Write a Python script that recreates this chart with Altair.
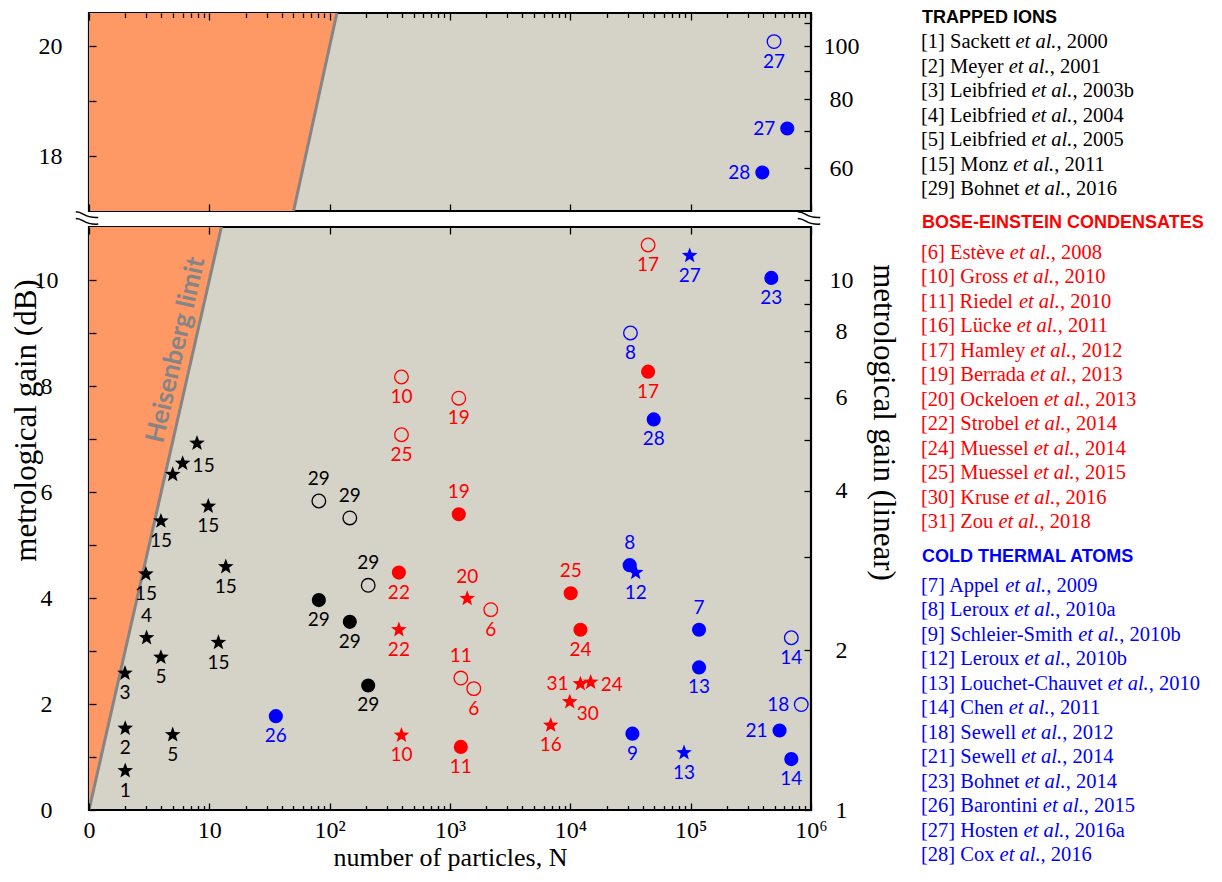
import math
import altair as alt
import pandas as pd

# ---------------- data ----------------
groups = ["TRAPPED IONS", "BOSE-EINSTEIN CONDENSATES", "COLD THERMAL ATOMS"]
group_colors = ["#000000", "#FF0000", "#0000FF"]

# trapped ions (black)
ti_star_N = [7.9, 6.0, 4.96, 9.8, 3.96, 13.7, 2.97, 3.01, 3.96, 11.9, 1.99, 2.0, 4.96, 2.0]
ti_star_dB = [6.92, 6.54, 6.33, 5.73, 5.45, 4.59, 4.45, 3.25, 2.88, 3.16, 2.58, 1.54, 1.42, 0.74]
ti_star_lab = ["", "15", "", "15", "15", "15", "15", "4", "5", "15", "3", "2", "5", "1"]
ti_star_pos = ["b", "r", "b", "b", "b", "b", "b", "a", "b", "b", "b", "b", "b", "b"]
ti_fill_N = [81.3, 147, 209]
ti_fill_dB = [3.96, 3.55, 2.35]
ti_fill_lab = ["29", "29", "29"]
ti_fill_pos = ["b", "b", "b"]
ti_open_N = [81.3, 147, 209]
ti_open_dB = [5.83, 5.51, 4.24]
ti_open_lab = ["29", "29", "29"]
ti_open_pos = ["a", "a", "a"]

# Bose-Einstein condensates (red)
bec_open_N = [395, 1183, 395, 2183, 1230, 1577, 44300]
bec_open_dB = [8.17, 7.77, 7.08, 3.78, 2.49, 2.29, 10.66]
bec_open_lab = ["10", "19", "25", "6", "11", "6", "17"]
bec_open_pos = ["b", "b", "b", "b", "a", "b", "b"]
bec_fill_N = [1183, 376, 1230, 10070, 12130, 44300]
bec_fill_dB = [5.58, 4.48, 1.19, 4.09, 3.40, 8.27]
bec_fill_lab = ["19", "22", "11", "25", "24", "17"]
bec_fill_pos = ["a", "b", "b", "a", "b", "b"]
bec_star_N = [1390, 376, 395, 6870, 12130, 14760, 9890]
bec_star_dB = [3.99, 3.40, 1.41, 1.60, 2.38, 2.41, 2.04]
bec_star_lab = ["20", "22", "10", "16", "31", "24", "30"]
bec_star_pos = ["a", "b", "b", "b", "l", "r", "br"]

# cold thermal atoms (blue)
cta_fill_N = [35.7, 468000, 49300, 31130, 117400, 117400, 548000, 32800, 686000, 635000, 394000]
cta_fill_dB = [1.77, 10.04, 7.37, 4.62, 3.40, 2.69, 1.50, 1.44, 0.96, 18.50, 17.70]
cta_fill_lab = ["26", "23", "28", "8", "7", "13", "21", "9", "14", "27", "28"]
cta_fill_pos = ["b", "b", "b", "a", "a", "b", "l", "b", "b", "l", "l"]
cta_open_N = [31600, 686000, 830000, 493000]
cta_open_dB = [9.00, 3.25, 1.99, 20.08]
cta_open_lab = ["8", "14", "18", "27"]
cta_open_pos = ["b", "b", "l", "b"]
cta_star_N = [98100, 34900, 88100]
cta_star_dB = [10.46, 4.48, 1.08]
cta_star_lab = ["27", "12", "13"]
cta_star_pos = ["b", "b", "b"]

# Heisenberg limit (gain = N) boundary, in dB, per panel
bottom_dB_range = [0.0, 11.0]
top_dB_range = [17.0, 20.6]
heis_label_N = [5.28]
heis_label_dB = [8.68]

# axis ticks
x_major = [1, 10, 100, 1e3, 1e4, 1e5, 1e6]
x_minor = [k * 10 ** d for d in range(6) for k in range(2, 10)]
db_ticks_bottom = [0, 1, 2, 3, 4, 5, 6, 7, 8, 9, 10]
db_ticks_top = [18, 19, 20]
lin_ticks_bottom = [1, 2, 3, 4, 5, 6, 7, 8, 9, 10]
lin_ticks_top = [60, 70, 80, 90, 100, 110]

# legend references
ti_ref_num = ["1", "2", "3", "4", "5", "15", "29"]
ti_ref_author = ["Sackett", "Meyer", "Leibfried", "Leibfried", "Leibfried", "Monz", "Bohnet"]
ti_ref_year = ["2000", "2001", "2003b", "2004", "2005", "2011", "2016"]
bec_ref_num = ["6", "10", "11", "16", "17", "19", "20", "22", "24", "25", "30", "31"]
bec_ref_author = ["Estève", "Gross", "Riedel", "Lücke", "Hamley", "Berrada", "Ockeloen",
                  "Strobel", "Muessel", "Muessel", "Kruse", "Zou"]
bec_ref_year = ["2008", "2010", "2010", "2011", "2012", "2013", "2013", "2014", "2014",
                "2015", "2016", "2018"]
cta_ref_num = ["7", "8", "9", "12", "13", "14", "18", "21", "23", "26", "27", "28"]
cta_ref_author = ["Appel", "Leroux", "Schleier-Smith", "Leroux", "Louchet-Chauvet", "Chen",
                  "Sewell", "Sewell", "Bohnet", "Barontini", "Hosten", "Cox"]
cta_ref_year = ["2009", "2010a", "2010b", "2010b", "2010", "2011", "2012", "2014", "2014",
                "2015", "2016a", "2016"]

# ---------------- styling ----------------
SERIF = "Liberation Serif"
LBLFONT = "Lato"
ORANGE = "#FE9966"
GRAY = "#D5D2C7"
HEIS = "#858585"
W, H_TOP, H_BOT = 722, 198, 583
OFFS = {"b": (0, 20), "a": (0, -22), "l": (-23, 0), "r": (21, 3), "br": (18, 12)}


def star_path(inner=0.42):
    pts = []
    for k in range(10):
        r = 1.0 if k % 2 == 0 else inner
        a = math.radians(-90 + 36 * k)
        pts.append((r * math.cos(a), r * math.sin(a)))
    return "M" + " L".join(f"{x:.3f},{y:.3f}" for x, y in pts) + " Z"


STAR = star_path()
BREAK = ("M-1,-0.55 C-0.35,-0.55 -0.45,-0.05 0.7,-0.12 "
         "M-1,-0.05 C-0.35,-0.05 -0.45,0.45 0.7,0.38")


def build_points():
    recs = []

    def add(g, kind, Ns, dBs, labs, poss):
        for n, d, l, p in zip(Ns, dBs, labs, poss):
            recs.append(dict(group=groups[g], kind=kind, N=n, dB=d, label=l, pos=p))

    add(0, "star", ti_star_N, ti_star_dB, ti_star_lab, ti_star_pos)
    add(0, "fill", ti_fill_N, ti_fill_dB, ti_fill_lab, ti_fill_pos)
    add(0, "open", ti_open_N, ti_open_dB, ti_open_lab, ti_open_pos)
    add(1, "open", bec_open_N, bec_open_dB, bec_open_lab, bec_open_pos)
    add(1, "fill", bec_fill_N, bec_fill_dB, bec_fill_lab, bec_fill_pos)
    add(1, "star", bec_star_N, bec_star_dB, bec_star_lab, bec_star_pos)
    add(2, "fill", cta_fill_N, cta_fill_dB, cta_fill_lab, cta_fill_pos)
    add(2, "open", cta_open_N, cta_open_dB, cta_open_lab, cta_open_pos)
    add(2, "star", cta_star_N, cta_star_dB, cta_star_lab, cta_star_pos)
    return pd.DataFrame(recs)


pts = build_points()

AX = dict(domain=False, grid=False, tickColor="black", tickWidth=1.3, zindex=2, minExtent=0,
          labelFont=SERIF, labelFontSize=24, labelColor="black", labelOverlap=False,
          titleFont=SERIF, titleFontWeight="normal", titleColor="black")

XLABEL = ("datum.value < 2 ? '0' : datum.value < 20 ? '10' : "
          "'10' + ['', '', '²', '³', '⁴', '⁵', '⁶'][round(log(datum.value) / LN10)]")
LIN = "round(pow(10, datum.value / 10))"

color_enc = alt.Color("group:N", scale=alt.Scale(domain=groups, range=group_colors), legend=None)


def make_panel(df, ydom, height, is_top):
    xs = alt.Scale(type="log", domain=[1, 1e6], nice=False)
    ys = alt.Scale(domain=ydom, nice=False, zero=False)
    if is_top:
        ax_x1 = alt.Axis(orient="top", values=x_major, tickSize=7, offset=-7, labels=False, title=None, **AX)
        ax_x2 = alt.Axis(orient="top", values=x_minor, tickSize=4.5, offset=-4.5, labels=False, title=None, **AX)
        ax_x3 = alt.Axis(orient="bottom", values=x_major, tickSize=7, offset=-7, labels=False, title=None, **AX)
        ax_y1 = alt.Axis(orient="left", values=db_ticks_top, tickSize=7, offset=-7,
                         labelExpr="datum.value % 2 == 0 ? format(datum.value, 'd') : ''",
                         labelAlign="center", labelBaseline="middle", labelPadding=39, title=None, **AX)
        ax_y2 = alt.Axis(orient="right", values=[10 * math.log10(g) for g in lin_ticks_top], tickSize=7, offset=-7,
                         labelExpr=f"{LIN} % 20 == 0 ? format({LIN}, 'd') : ''",
                         labelAlign="center", labelBaseline="middle", labelPadding=30, title=None, **AX)
    else:
        ax_x1 = alt.Axis(orient="bottom", values=x_major, tickSize=7, offset=-7, labelExpr=XLABEL,
                         labelFlush=False, labelPadding=8, title="number of particles, N",
                         titleFontSize=26, titlePadding=2, **AX)
        ax_x2 = alt.Axis(orient="bottom", values=x_minor, tickSize=4.5, offset=-4.5, labels=False, title=None, **AX)
        ax_x3 = alt.Axis(orient="top", values=x_major, tickSize=7, offset=-7, labels=False, title=None, **AX)
        ax_y1 = alt.Axis(orient="left", values=db_ticks_bottom, tickSize=7, offset=-7,
                         labelExpr="datum.value % 2 == 0 ? format(datum.value, 'd') : ''",
                         labelAlign="center", labelBaseline="middle", labelPadding=43,
                         title="metrological gain (dB)", titleFontSize=31, titleX=-70, titleY=193,
                         titleAngle=270, titleAlign="center", titleBaseline="middle", **AX)
        ax_y2 = alt.Axis(orient="right", values=[10 * math.log10(g) for g in lin_ticks_bottom], tickSize=7, offset=-7,
                         labelExpr=f"({LIN} == 1 || {LIN} % 2 == 0) ? format({LIN}, 'd') : ''",
                         labelAlign="center", labelBaseline="middle", labelPadding=30,
                         title="metrological gain (linear)", titleFontSize=31, titleX=78, titleY=195,
                         titleAngle=90, titleAlign="center", titleBaseline="middle", **AX)

    area_df = pd.DataFrame({"dB": ydom, "Nlo": [1.0, 1.0], "Nhi": [10 ** (d / 10) for d in ydom]})
    line_df = pd.DataFrame({"dB": ydom, "N": [10 ** (d / 10) for d in ydom]})

    layers = [
        alt.Chart(area_df).mark_area(orient="horizontal", color=ORANGE, clip=True).encode(
            x=alt.X("Nlo:Q", scale=xs, axis=ax_x1), x2="Nhi:Q", y=alt.Y("dB:Q", scale=ys, axis=ax_y1)),
        alt.Chart(line_df).mark_line(color=HEIS, strokeWidth=3, clip=True).encode(
            x=alt.X("N:Q", scale=xs, axis=ax_x2), y=alt.Y("dB:Q", scale=ys, axis=ax_y2)),
    ]
    first_pts = True
    for kind in ["fill", "open", "star"]:
        sub = df[df.kind == kind]
        if len(sub) == 0:
            continue
        if kind == "fill":
            mk = alt.Chart(sub).mark_point(shape="circle", filled=True, size=200, opacity=1)
        elif kind == "open":
            mk = alt.Chart(sub).mark_point(shape="circle", filled=False, size=185, strokeWidth=1.3, opacity=1)
        else:
            mk = alt.Chart(sub).mark_point(shape=STAR, filled=True, size=270, strokeWidth=0, opacity=1)
        layers.append(mk.encode(
            x=alt.X("N:Q", scale=xs, axis=ax_x3 if first_pts else None),
            y=alt.Y("dB:Q", scale=ys, axis=None), color=color_enc))
        first_pts = False
    labs = df[df.label != ""]
    for code, (dx, dy) in OFFS.items():
        sub = labs[labs.pos == code]
        if len(sub) == 0:
            continue
        layers.append(alt.Chart(sub).mark_text(
            dx=dx, dy=dy, font=LBLFONT, fontSize=19, align="center", baseline="middle").encode(
            x=alt.X("N:Q", scale=xs, axis=None), y=alt.Y("dB:Q", scale=ys, axis=None),
            text="label:N", color=color_enc))
    if not is_top:
        hl = pd.DataFrame({"N": heis_label_N, "dB": heis_label_dB, "t": ["Heisenberg limit"]})
        layers.append(alt.Chart(hl).mark_text(
            angle=282.8, font=LBLFONT, fontWeight="bold", fontSize=26, color=HEIS,
            align="center", baseline="middle").encode(
            x=alt.X("N:Q", scale=xs, axis=None), y=alt.Y("dB:Q", scale=ys, axis=None), text="t:N"))
        brk = pd.DataFrame({"N": [1.0, 1e6], "dB": [ydom[1] + 0.15, ydom[1] + 0.15]})
        layers.append(alt.Chart(brk).mark_point(
            shape=BREAK, filled=False, size=700, strokeWidth=1.5, color="black", opacity=1).encode(
            x=alt.X("N:Q", scale=xs, axis=None), y=alt.Y("dB:Q", scale=ys, axis=None)))

    return alt.layer(*layers).properties(
        width=W, height=height,
        view=alt.ViewBackground(fill=GRAY, stroke="black", strokeWidth=2.2),
    ).resolve_axis(x="independent", y="independent")


top = make_panel(pts[pts.dB > 15], top_dB_range, H_TOP, True)
bottom = make_panel(pts[pts.dB <= 15], bottom_dB_range, H_BOT, False)
plots = alt.vconcat(top, bottom, spacing=16, bounds="flush")

# ---------------- legend (text list) ----------------
TW = {c: w for c, w in zip("ABCDEFGHIJKLMNOPQRSTUVWXYZ",
                           [722, 667, 667, 722, 611, 556, 722, 722, 333, 389, 722, 611, 889, 722, 722,
                            556, 722, 667, 556, 611, 722, 722, 944, 722, 722, 611])}
TW.update({c: w for c, w in zip("abcdefghijklmnopqrstuvwxyz",
                                [444, 500, 444, 500, 444, 333, 500, 500, 278, 278, 500, 278, 778, 500, 500,
                                 500, 500, 333, 389, 278, 500, 500, 722, 500, 500, 444])})
TW.update({" ": 250, "[": 333, "]": 333, "-": 333, ",": 250, ".": 250, "è": 444, "ü": 500})
TW.update({d: 500 for d in "0123456789"})
ETAL_W = 2000  # Times italic "et al."
LEG_FS = 20.5
LINE = 24.5
Y0 = 4.5
LW, LH = 278, H_TOP + 16 + H_BOT


def tw(s):
    return sum(TW.get(c, 500) for c in s) * LEG_FS / 1000.0


leg_head, leg_ent = [], []
k = 0.0
for gi, (nums, auths, years) in enumerate([(ti_ref_num, ti_ref_author, ti_ref_year),
                                           (bec_ref_num, bec_ref_author, bec_ref_year),
                                           (cta_ref_num, cta_ref_author, cta_ref_year)]):
    leg_head.append(dict(group=groups[gi], y=Y0 + LINE * k, x=1, t=groups[gi]))
    k += 1.0 if gi == 0 else 1.2
    for n, a, yr in zip(nums, auths, years):
        pre = f"[{n}] {a} "
        x1 = tw(pre)
        leg_ent.append(dict(group=groups[gi], y=Y0 + LINE * k, pre=pre, etal="et al.", suf=f", {yr}",
                            x0=0, x1=x1, x2=x1 + ETAL_W * LEG_FS / 1000.0))
        k += 1.0
    k += 0.4

lh = pd.DataFrame(leg_head)
le = pd.DataFrame(leg_ent)
lxs = alt.Scale(domain=[0, LW], nice=False, zero=True)
lys = alt.Scale(domain=[0, LH], nice=False, zero=True, reverse=True)


def ltext(df, xf, tf, **kw):
    return alt.Chart(df).mark_text(align="left", baseline="middle", **kw).encode(
        x=alt.X(f"{xf}:Q", scale=lxs, axis=None), y=alt.Y("y:Q", scale=lys, axis=None),
        text=f"{tf}:N", color=color_enc)


legend = alt.layer(
    ltext(lh, "x", "t", font="Liberation Sans", fontWeight="bold", fontSize=18),
    ltext(le, "x0", "pre", font=SERIF, fontSize=LEG_FS),
    ltext(le, "x1", "etal", font=SERIF, fontSize=LEG_FS, fontStyle="italic"),
    ltext(le, "x2", "suf", font=SERIF, fontSize=LEG_FS),
).properties(width=LW, height=LH)

chart = alt.hconcat(plots, legend, spacing=21).properties(
    padding={"left": 0, "top": 0, "right": 0, "bottom": 0}
).configure_view(stroke=None)

chart.save("out.html", embed_options={"renderer": "svg", "actions": False})
